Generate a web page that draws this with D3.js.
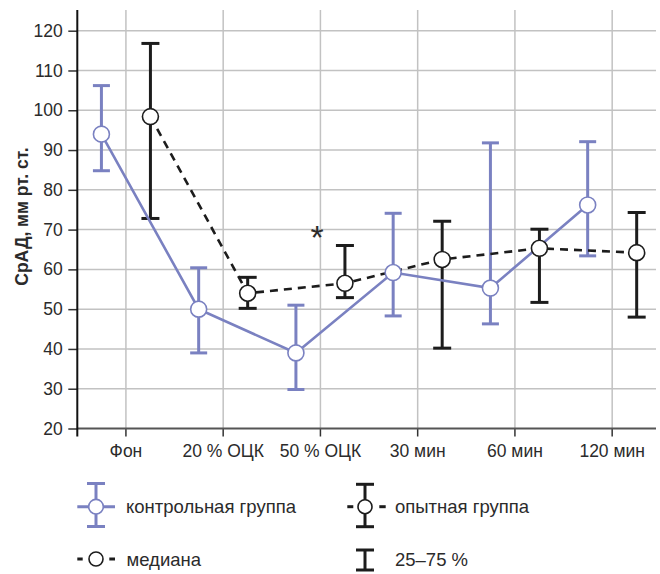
<!DOCTYPE html>
<html>
<head>
<meta charset="utf-8">
<script src="https://cdn.jsdelivr.net/npm/d3@7"></script>
<style>
  html, body { margin: 0; padding: 0; background: #fff; }
  svg { display: block; font-family: "Liberation Sans", Arial, sans-serif; }
</style>
</head>
<body>
<svg id="chart" width="660" height="574"></svg>
<script>
// ---- data ----
const categories = ["Фон", "20 % ОЦК", "50 % ОЦК", "30 мин", "60 мин", "120 мин"];
const controlMedian = [94, 50, 39, 59.2, 55.3, 76.2];
const controlQ1     = [84.8, 39, 29.8, 48.3, 46.3, 63.4];
const controlQ3     = [106.2, 60.4, 51, 74.1, 91.8, 92.1];
const expMedian     = [98.4, 54, 56.5, 62.5, 65.3, 64.2];
const expQ1         = [72.8, 50.2, 52.9, 40.2, 51.7, 48];
const expQ3         = [116.8, 58, 66, 72.1, 70.1, 74.3];
const yTicks = [20, 30, 40, 50, 60, 70, 80, 90, 100, 110, 120];
const yTitle = "СрАД, мм рт. ст.";
const legendLabels = ["контрольная группа", "опытная группа", "медиана", "25–75 %"];
const starCategory = "50 % ОЦК";

// ---- styles ----
const BLUE = "#7a81c1";
const BLACK = "#1c1c1c";
const GRID = "#c2c2c2";
const TEXT = "#2b2b2b";

const svg = d3.select("#chart");

const plotL = 77.3, plotR = 656, plotT = 10, plotB = 428.5;
const x = d3.scaleBand().domain(categories).range([plotL, 660.8]);
const y = d3.scaleLinear().domain([20, 120]).range([428.5, 30.7]);
const bw = x.bandwidth();
const cx = c => x(c) + bw / 2;
const off = 0.252 * bw;

// grid
const g = svg.append("g");
g.selectAll(".hg").data(yTicks.slice(1)).enter().append("line")
  .attr("x1", plotL).attr("x2", plotR)
  .attr("y1", d => y(d)).attr("y2", d => y(d))
  .attr("stroke", GRID).attr("stroke-width", 1.5);
g.selectAll(".vg").data(categories).enter().append("line")
  .attr("x1", d => cx(d)).attr("x2", d => cx(d))
  .attr("y1", plotT).attr("y2", plotB)
  .attr("stroke", GRID).attr("stroke-width", 1.5);

// y axis
const yAxis = d3.axisLeft(y).tickValues(yTicks).tickSize(9).tickPadding(5.5);
const ya = svg.append("g").attr("transform", `translate(${plotL},0)`).call(yAxis);
ya.select(".domain").remove();
ya.selectAll(".tick line").attr("stroke", "#333").attr("stroke-width", 1.5);
ya.selectAll(".tick text").attr("fill", TEXT).style("font-size", "17.5px")
  .style("font-family", '"Liberation Sans", Arial, sans-serif');

// x axis
const xAxis = d3.axisBottom(x).tickSize(8).tickPadding(8.5);
const xa = svg.append("g").attr("transform", `translate(0,${plotB})`).call(xAxis);
xa.select(".domain").remove();
xa.selectAll(".tick line").attr("stroke", "#333").attr("stroke-width", 1.5);
xa.selectAll(".tick text").attr("fill", TEXT).style("font-size", "17.5px")
  .style("font-family", '"Liberation Sans", Arial, sans-serif');

svg.append("line").attr("x1", plotL).attr("x2", plotR).attr("y1", plotB).attr("y2", plotB)
  .attr("stroke", "#555").attr("stroke-width", 2.2);
svg.append("line").attr("x1", plotL).attr("x2", plotL).attr("y1", plotT).attr("y2", plotB + 8)
  .attr("stroke", "#111").attr("stroke-width", 2);

// y title
svg.append("text")
  .attr("transform", `translate(28,${216.5}) rotate(-90)`)
  .attr("text-anchor", "middle")
  .attr("fill", TEXT)
  .style("font-size", "17.5px").style("font-weight", "bold")
  .text(yTitle);

// data rows
const ctrl = categories.map((c, i) => ({ c, m: controlMedian[i], lo: controlQ1[i], hi: controlQ3[i], x: cx(c) - off }));
const exp  = categories.map((c, i) => ({ c, m: expMedian[i], lo: expQ1[i], hi: expQ3[i], x: cx(c) + off }));

function errorBars(data, color, w, cap) {
  const eg = svg.append("g").attr("stroke", color).attr("stroke-width", w);
  eg.selectAll(".v").data(data).enter().append("line")
    .attr("x1", d => d.x).attr("x2", d => d.x).attr("y1", d => y(d.lo)).attr("y2", d => y(d.hi));
  eg.selectAll(".t").data(data).enter().append("line")
    .attr("x1", d => d.x - cap).attr("x2", d => d.x + cap).attr("y1", d => y(d.hi)).attr("y2", d => y(d.hi));
  eg.selectAll(".b").data(data).enter().append("line")
    .attr("x1", d => d.x - cap).attr("x2", d => d.x + cap).attr("y1", d => y(d.lo)).attr("y2", d => y(d.lo));
}
errorBars(ctrl, BLUE, 3, 8.5);
errorBars(exp, BLACK, 3, 9);

const line = d3.line().x(d => d.x).y(d => y(d.m));
svg.append("path").datum(ctrl).attr("d", line).attr("fill", "none")
  .attr("stroke", BLUE).attr("stroke-width", 2.6);
svg.append("path").datum(exp).attr("d", line).attr("fill", "none")
  .attr("stroke", BLACK).attr("stroke-width", 2.6).attr("stroke-dasharray", "8,6");

svg.append("g").selectAll("circle").data(ctrl).enter().append("circle")
  .attr("cx", d => d.x).attr("cy", d => y(d.m)).attr("r", 8)
  .attr("fill", "#fff").attr("stroke", BLUE).attr("stroke-width", 1.6);
svg.append("g").selectAll("circle").data(exp).enter().append("circle")
  .attr("cx", d => d.x).attr("cy", d => y(d.m)).attr("r", 8)
  .attr("fill", "#fff").attr("stroke", BLACK).attr("stroke-width", 1.6);

// asterisk
svg.append("text").attr("x", cx(starCategory) - 3.4).attr("y", 249)
  .attr("text-anchor", "middle").attr("fill", TEXT)
  .style("font-size", "34px").text("*");

// ---- legend ----
const L = svg.append("g");
// control
L.append("line").attr("x1", 77.3).attr("x2", 115).attr("y1", 506.7).attr("y2", 506.7).attr("stroke", BLUE).attr("stroke-width", 3);
L.append("line").attr("x1", 96).attr("x2", 96).attr("y1", 483.5).attr("y2", 526.5).attr("stroke", BLUE).attr("stroke-width", 3);
L.append("line").attr("x1", 87).attr("x2", 105).attr("y1", 483.5).attr("y2", 483.5).attr("stroke", BLUE).attr("stroke-width", 3);
L.append("line").attr("x1", 87).attr("x2", 105).attr("y1", 526.5).attr("y2", 526.5).attr("stroke", BLUE).attr("stroke-width", 3);
L.append("circle").attr("cx", 96).attr("cy", 506.7).attr("r", 7.3).attr("fill", "#fff").attr("stroke", BLUE).attr("stroke-width", 1.6);
L.append("text").attr("x", 126).attr("y", 513).attr("fill", TEXT).style("font-size", "18.5px").text(legendLabels[0]);
// experimental
L.append("line").attr("x1", 365).attr("x2", 365).attr("y1", 484.3).attr("y2", 526.7).attr("stroke", BLACK).attr("stroke-width", 3);
L.append("line").attr("x1", 356).attr("x2", 374).attr("y1", 484.3).attr("y2", 484.3).attr("stroke", BLACK).attr("stroke-width", 3);
L.append("line").attr("x1", 356).attr("x2", 374).attr("y1", 526.7).attr("y2", 526.7).attr("stroke", BLACK).attr("stroke-width", 3);
L.append("line").attr("x1", 347.3).attr("x2", 353.3).attr("y1", 506.7).attr("y2", 506.7).attr("stroke", BLACK).attr("stroke-width", 3);
L.append("line").attr("x1", 379.3).attr("x2", 385.7).attr("y1", 506.7).attr("y2", 506.7).attr("stroke", BLACK).attr("stroke-width", 3);
L.append("circle").attr("cx", 365).attr("cy", 506.7).attr("r", 7).attr("fill", "#fff").attr("stroke", BLACK).attr("stroke-width", 1.6);
L.append("text").attr("x", 395).attr("y", 513).attr("fill", TEXT).style("font-size", "18.5px").text(legendLabels[1]);
// median
L.append("line").attr("x1", 77.3).attr("x2", 82.7).attr("y1", 559).attr("y2", 559).attr("stroke", BLACK).attr("stroke-width", 3);
L.append("line").attr("x1", 109.3).attr("x2", 115).attr("y1", 559).attr("y2", 559).attr("stroke", BLACK).attr("stroke-width", 3);
L.append("circle").attr("cx", 96).attr("cy", 559).attr("r", 7).attr("fill", "#fff").attr("stroke", BLACK).attr("stroke-width", 1.6);
L.append("text").attr("x", 126.5).attr("y", 565.5).attr("fill", TEXT).style("font-size", "18.5px").text(legendLabels[2]);
// IQR
L.append("line").attr("x1", 365).attr("x2", 365).attr("y1", 550).attr("y2", 570).attr("stroke", BLACK).attr("stroke-width", 3);
L.append("line").attr("x1", 356).attr("x2", 374).attr("y1", 550).attr("y2", 550).attr("stroke", BLACK).attr("stroke-width", 3);
L.append("line").attr("x1", 356).attr("x2", 374).attr("y1", 570).attr("y2", 570).attr("stroke", BLACK).attr("stroke-width", 3);
L.append("text").attr("x", 395).attr("y", 565.5).attr("fill", TEXT).style("font-size", "18.5px").text(legendLabels[3]);
</script>
</body>
</html>
